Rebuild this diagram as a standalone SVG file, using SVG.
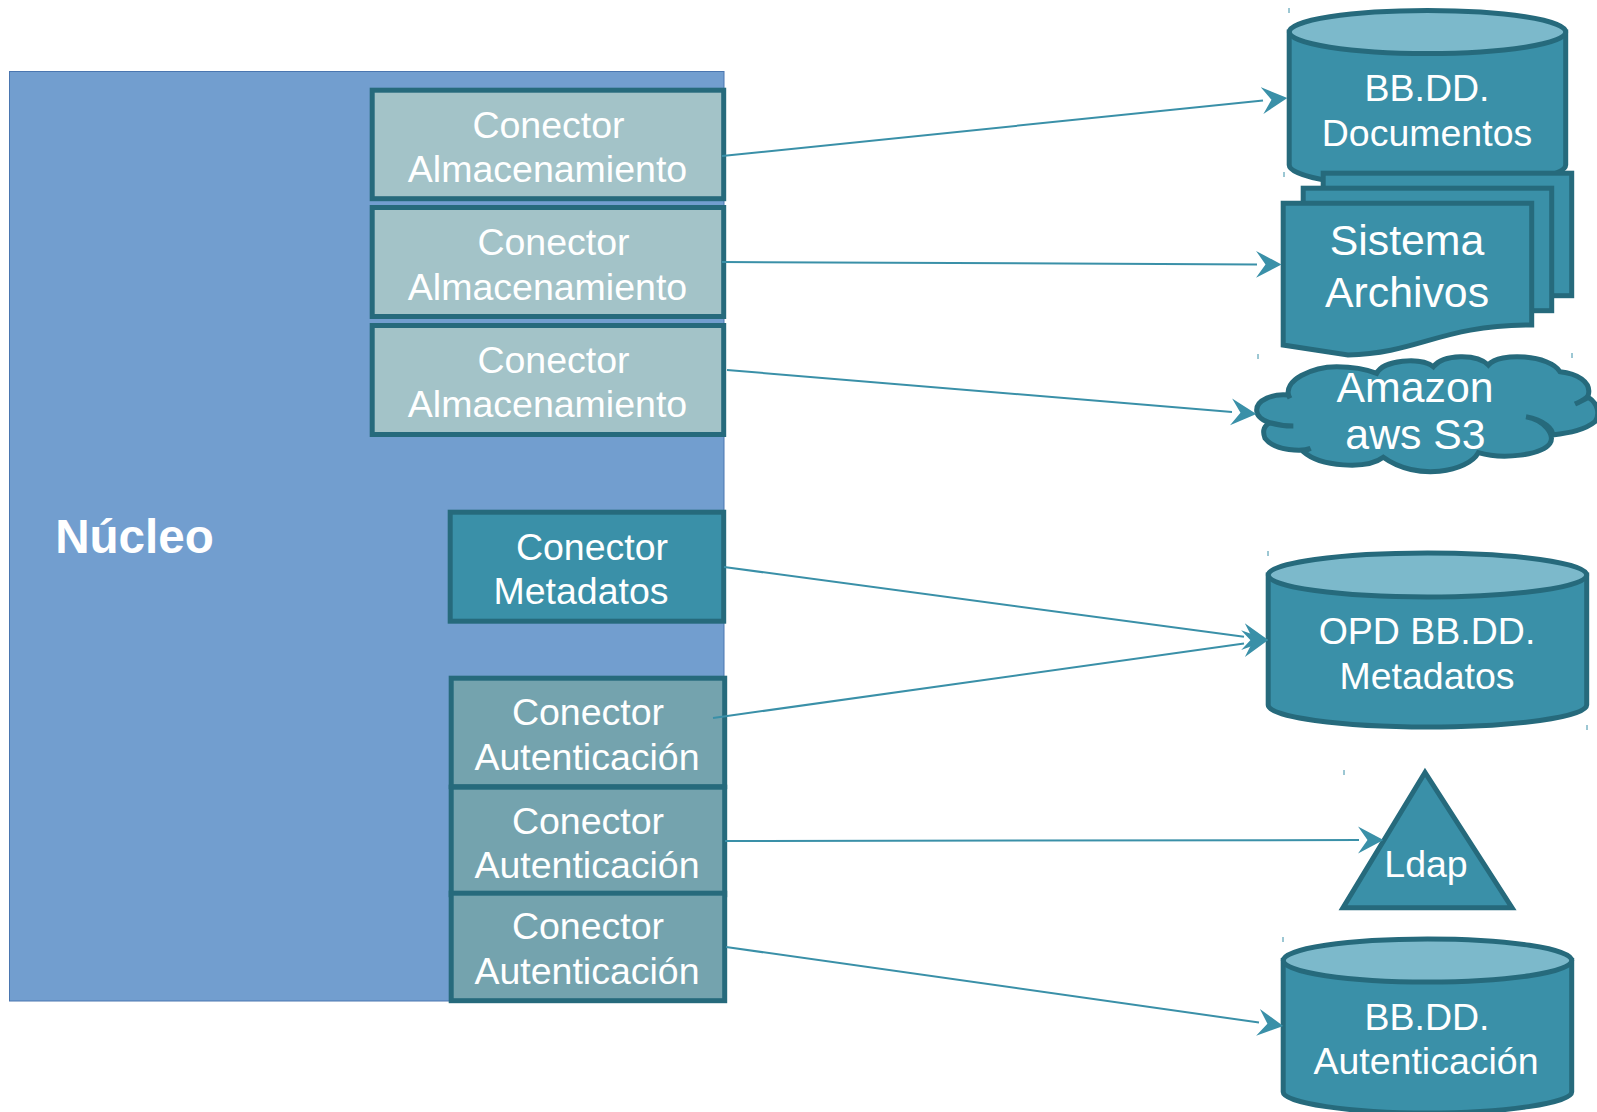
<svg xmlns="http://www.w3.org/2000/svg" width="1597" height="1112" viewBox="0 0 1597 1112">
<style>
text{font-family:"Liberation Sans",Arial,sans-serif;fill:#fff;font-size:37.5px;text-anchor:middle}
.big{font-size:42.8px}
.title{font-size:47.6px;font-weight:bold}
.shape{fill:#3a90a8;stroke:#266a7c;stroke-width:5}
.top{fill:#7cb9cb;stroke:#266a7c;stroke-width:5}
.store{fill:#a3c3c8;stroke:#266a7c;stroke-width:5}
.auth{fill:#74a3ae;stroke:#266a7c;stroke-width:5}
.tick{stroke:#3a90a8;stroke-width:1;fill:none}
#connectors line{stroke:#3a90a8;stroke-width:2;marker-end:url(#head)}
</style>
<defs>
<marker id="head" markerUnits="userSpaceOnUse" markerWidth="30" markerHeight="30" viewBox="0 0 30 30" refX="1" refY="15" orient="auto">
<path d="M0,1.5 L25.5,15 L0,28.5 L9.5,15 Z" fill="#3a90a8"/>
</marker>
</defs>
<rect id="nucleo" x="9.5" y="71.5" width="714.5" height="929.5" fill="#729ecf" stroke="#4a76b0" stroke-width="1"/>
<text class="title" x="134.5" y="553">Núcleo</text>
<g id="conn-alm-1"><rect class="store" x="372.2" y="90.2" width="351.5" height="108.5"/><text x="548.5" y="138">Conector</text><text x="547.5" y="182">Almacenamiento</text></g>
<g id="conn-alm-2"><rect class="store" x="372.2" y="207.5" width="351.5" height="109"/><text x="553.5" y="255">Conector</text><text x="547.5" y="300">Almacenamiento</text></g>
<g id="conn-alm-3"><rect class="store" x="372.2" y="325.5" width="351.5" height="109"/><text x="553.5" y="373">Conector</text><text x="547.5" y="417">Almacenamiento</text></g>
<g id="conn-meta"><rect class="shape" x="450.2" y="512.2" width="273.5" height="109"/><text x="592" y="560">Conector</text><text x="581" y="604">Metadatos</text></g>
<g id="conn-auth-1"><rect class="auth" x="451.2" y="678.2" width="273.5" height="108.5"/><text x="588" y="725">Conector</text><text x="587" y="770">Autenticación</text></g>
<g id="conn-auth-2"><rect class="auth" x="451.2" y="787.2" width="273.5" height="107.5"/><text x="588" y="834">Conector</text><text x="587" y="878">Autenticación</text></g>
<g id="conn-auth-3"><rect class="auth" x="451.2" y="893.2" width="273.5" height="107.5"/><text x="588" y="939">Conector</text><text x="587" y="984">Autenticación</text></g>
<g id="db-documentos">
<path class="shape" d="M1289.2,32 V165 C1289.2,177 1350,188 1427.5,188 C1505,188 1565.7,177 1565.7,165 V32 Z"/>
<ellipse class="top" cx="1427.5" cy="32" rx="138.2" ry="21.5"/>
<text x="1427" y="101">BB.DD.</text><text x="1427" y="146">Documentos</text>
</g>
<g id="sistema-archivos">
<rect class="shape" x="1323.2" y="173.2" width="248.5" height="122.5"/>
<rect class="shape" x="1303.2" y="188.2" width="248.5" height="122.5"/>
<path class="shape" d="M1283.2,203.2 H1531.7 V325 C1440,325 1420,353 1348,355 L1283.2,345 Z"/>
<text class="big" x="1407" y="255">Sistema</text><text class="big" x="1407" y="307">Archivos</text>
</g>
<g id="amazon-s3">
<path transform="translate(1220 340) scale(.33333)" fill="#3a90a8" stroke="#266a7c" stroke-width="15" d="M208,172 C185,120 280,80 350,80 C395,80 440,88 470,100 C490,60 600,50 640,80 C670,42 770,40 805,75 C840,35 990,45 1020,95 C1070,100 1115,125 1105,165 C1100,175 1085,183 1065,192 C1085,182 1100,175 1105,172 C1135,190 1140,225 1125,245 C1095,270 1050,278 997,285 C1000,270 975,240 918,230 C975,240 1005,285 990,310 C965,345 850,360 775,338 C745,395 590,425 490,352 C440,390 300,380 250,335 L272,325 C250,335 165,335 135,295 C125,270 135,255 150,248 C175,255 200,258 220,258 C170,258 110,245 110,210 C110,180 160,160 205,165 L210,175" />
<text class="big" x="1415" y="402">Amazon</text><text class="big" x="1415.5" y="449">aws S3</text>
</g>
<g id="db-metadatos">
<path class="shape" d="M1268.2,575 V705 C1268.2,717 1340,727 1427.5,727 C1515,727 1586.7,717 1586.7,705 V575 Z"/>
<ellipse class="top" cx="1427.5" cy="575" rx="159.2" ry="22"/>
<text x="1427" y="644">OPD BB.DD.</text><text x="1427" y="689">Metadatos</text>
</g>
<g id="ldap">
<path class="shape" stroke-linejoin="miter" d="M1425,772.5 L1343,907.7 H1512 Z"/>
<text x="1426" y="877">Ldap</text>
</g>
<g id="db-autenticacion">
<path class="shape" d="M1283.2,960.5 V1092 C1283.2,1103 1350,1113 1427.5,1113 C1505,1113 1571.7,1103 1571.7,1092 V960.5 Z"/>
<ellipse class="top" cx="1427.5" cy="960.5" rx="144.2" ry="21.5"/>
<text x="1427" y="1030">BB.DD.</text><text x="1426" y="1074">Autenticación</text>
</g>
<g id="ticks">
<path class="tick" d="M1289,8V13 M1284,172V177 M1258,354V359 M1572,353V358 M1268,551V556 M1587,725V730 M1344,770V775 M1283,937V942"/>
</g>
<g id="connectors">
<line x1="722" y1="156" x2="1263" y2="100.5"/>
<line x1="722" y1="262" x2="1257" y2="264.4"/>
<line x1="727" y1="370" x2="1232" y2="412"/>
<line x1="724" y1="567" x2="1244" y2="636.8"/>
<line x1="713" y1="718" x2="1244" y2="643.4"/>
<line x1="725" y1="841" x2="1359" y2="840"/>
<line x1="726" y1="947" x2="1259" y2="1022.5"/>
</g>
</svg>
